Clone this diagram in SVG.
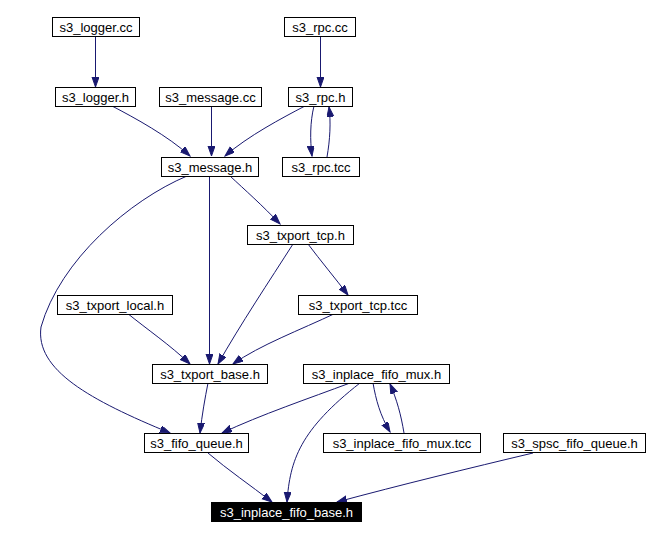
<svg xmlns="http://www.w3.org/2000/svg" width="650" height="540" viewBox="0 0 650 540">
<defs>
<style>
.n rect{fill:#fff;stroke:#000;stroke-width:1}
.n text{font-family:"Liberation Sans",Arial,sans-serif;font-size:13px;text-anchor:middle;fill:#000}
#n_base rect{fill:#000}
#n_base text{fill:#fff}
.e path{fill:none;stroke:#191970;stroke-width:1;marker-end:url(#ah)}
</style>
<marker id="ah" markerUnits="userSpaceOnUse" markerWidth="11" markerHeight="8" refX="10" refY="3.5" orient="auto">
<path d="M0,0 L10,3.5 L0,7 z" fill="#191970" stroke="#191970" stroke-width="1"/>
</marker>
</defs>
<rect width="650" height="540" fill="#fff"/>
<g id="edges" class="e">
<path d="M95.5,37 L95.5,87"/>
<path d="M320.5,37 L320.5,87"/>
<path d="M112,106 C135,118 168,136 190,156"/>
<path d="M211.5,106 L211.5,156"/>
<path d="M305,106 C282,118 248,136 225,156"/>
<path d="M314,106 C310,122 310,140 312,156"/>
<path d="M327,157 C330,140 331,122 329,107"/>
<path d="M187,176 C130,200 60,260 41,327 C35,370 90,400 170,433"/>
<path d="M209.5,176 L209.5,364"/>
<path d="M230,176 C245,190 262,205 280,224"/>
<path d="M293,244 C270,280 240,325 218,364"/>
<path d="M308,244 C320,260 335,278 348,295"/>
<path d="M127,313 C148,330 170,345 190,364"/>
<path d="M336,313 C300,330 260,345 233,364"/>
<path d="M208,383 C205,398 202,415 200,433"/>
<path d="M350,383 C310,398 260,415 222,433"/>
<path d="M360,383 C300,430 290,460 287,502"/>
<path d="M373,383 C376,400 380,415 390,432"/>
<path d="M404,433 C401,415 397,400 390,384"/>
<path d="M208,453 C228,470 250,485 272,502"/>
<path d="M533,453 C470,468 400,485 337,502"/>
</g>
<g id="n_logger_cc" class="n"><rect x="52.5" y="17.5" width="87" height="19"/><text x="96" y="32">s3_logger.cc</text></g>
<g id="n_rpc_cc" class="n"><rect x="284.5" y="17.5" width="71" height="19"/><text x="320" y="32">s3_rpc.cc</text></g>
<g id="n_logger_h" class="n"><rect x="55.5" y="87.5" width="80" height="19"/><text x="95.5" y="102">s3_logger.h</text></g>
<g id="n_message_cc" class="n"><rect x="159.5" y="87.5" width="102" height="19"/><text x="210.5" y="102">s3_message.cc</text></g>
<g id="n_rpc_h" class="n"><rect x="288.5" y="87.5" width="64" height="19"/><text x="320.5" y="102">s3_rpc.h</text></g>
<g id="n_message_h" class="n"><rect x="161.5" y="157.5" width="97" height="19"/><text x="210" y="172">s3_message.h</text></g>
<g id="n_rpc_tcc" class="n"><rect x="282.5" y="157.5" width="77" height="19"/><text x="321" y="172">s3_rpc.tcc</text></g>
<g id="n_txport_tcp_h" class="n"><rect x="247.5" y="225.5" width="106" height="19"/><text x="300.5" y="240">s3_txport_tcp.h</text></g>
<g id="n_txport_local_h" class="n"><rect x="57.5" y="295.5" width="115" height="19"/><text x="115" y="310">s3_txport_local.h</text></g>
<g id="n_txport_tcp_tcc" class="n"><rect x="298.5" y="295.5" width="119" height="19"/><text x="358" y="310">s3_txport_tcp.tcc</text></g>
<g id="n_txport_base_h" class="n"><rect x="152.5" y="364.5" width="115" height="19"/><text x="210" y="379">s3_txport_base.h</text></g>
<g id="n_mux_h" class="n"><rect x="303.5" y="364.5" width="146" height="19"/><text x="376.5" y="379">s3_inplace_fifo_mux.h</text></g>
<g id="n_fifo_queue_h" class="n"><rect x="144.5" y="433.5" width="104" height="19"/><text x="196.5" y="448">s3_fifo_queue.h</text></g>
<g id="n_mux_tcc" class="n"><rect x="323.5" y="433.5" width="157" height="19"/><text x="402" y="448">s3_inplace_fifo_mux.tcc</text></g>
<g id="n_spsc" class="n"><rect x="503.5" y="433.5" width="142" height="19"/><text x="574.5" y="448">s3_spsc_fifo_queue.h</text></g>
<g id="n_base" class="n"><rect x="211.5" y="502.5" width="150" height="19"/><text x="286.5" y="517">s3_inplace_fifo_base.h</text></g>
</svg>
